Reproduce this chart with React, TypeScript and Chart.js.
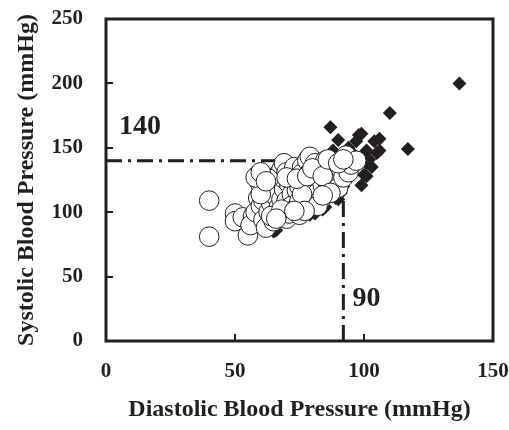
import React, { useEffect, useRef } from "react";
import { Chart, registerables } from "chart.js";

Chart.register(...registerables);

// Hypertensive subjects (filled diamonds): [diastolic, systolic]
const diamondPoints: number[][] = [
  [137, 200], [110, 177], [117, 149], [87, 166], [90, 156], [98, 160], [99, 161],
  [97, 155], [106, 157], [104, 155], [105, 146], [101, 148], [88, 148], [102, 141],
  [106, 148], [103, 135], [101, 128], [99, 121], [100, 129], [101, 138], [90, 110],
  [91, 115], [84, 102], [83, 103], [79, 98], [81, 99], [85, 104], [66, 86], [65, 85],
  [89, 111], [95, 130], [93, 125], [97, 138], [92, 120], [96, 145], [94, 150],
];

// Normotensive subjects (open circles): [diastolic, systolic]
const circlePoints: number[][] = [
  [40, 109], [40, 81], [50, 99], [50, 93], [53, 96], [55, 82], [57, 97], [56, 90],
  [58, 100], [59, 125], [59, 129], [60, 121], [59, 111], [60, 105], [61, 109], [61, 94],
  [62, 88], [62, 117], [63, 100], [64, 107], [64, 115], [65, 93], [65, 122], [66, 128],
  [66, 120], [66, 112], [67, 99], [67, 104], [68, 110], [68, 133], [69, 118], [69, 126],
  [69, 138], [70, 109], [70, 95], [70, 131], [71, 99], [71, 122], [72, 124], [72, 114],
  [72, 105], [73, 128], [73, 135], [74, 104], [74, 117], [75, 109], [75, 120], [75, 98],
  [76, 135], [76, 130], [77, 112], [77, 125], [78, 140], [78, 106], [79, 117], [79, 143],
  [79, 131], [80, 122], [80, 110], [81, 138], [81, 127], [82, 115], [83, 109], [83, 133],
  [84, 121], [85, 140], [85, 131], [86, 118], [86, 126], [87, 136], [88, 124], [88, 138],
  [89, 130], [90, 119], [91, 134], [92, 127], [93, 144], [94, 131], [95, 137], [97, 140],
  [64, 97], [63, 126], [60, 114], [68, 102], [76, 114], [82, 105],
  [58, 127], [60, 131], [62, 124], [70, 127], [74, 126], [78, 128], [80, 134], [84, 128],
  [86, 141], [90, 138], [92, 141], [87, 115], [84, 113], [77, 101], [73, 101], [66, 95],
];

// Threshold reference lines
const systolicLimit = 140;
const diastolicLimit = 92;
const systolicLineEnd = 92;
const diastolicLineEnd = 140;
const thresholdLabels = ["140", "90"];
const labelAnchors: number[][] = [[5, 166], [95.5, 33]]; // [x, y] data values

const xTicks = [0, 50, 100, 150];
const yTicks = [0, 50, 100, 150, 200, 250];
const xTitle = "Diastolic Blood Pressure (mmHg)";
const yTitle = "Systolic Blood Pressure (mmHg)";

const INK = "#231f20";
const SERIF = "'Liberation Serif', 'Times New Roman', serif";

const framePlugin = {
  id: "frameAndTicks",
  afterDatasetsDraw(chart: any) {
    const { ctx, chartArea, scales } = chart;
    const xs = scales.x;
    const ys = scales.y;
    ctx.save();
    ctx.strokeStyle = INK;
    ctx.lineWidth = 3;
    ctx.strokeRect(chartArea.left, chartArea.top, chartArea.right - chartArea.left, chartArea.bottom - chartArea.top);
    ctx.lineWidth = 2;
    ctx.beginPath();
    xTicks.slice(1, -1).forEach((v) => {
      const px = Math.round(xs.getPixelForValue(v));
      ctx.moveTo(px, chartArea.bottom);
      ctx.lineTo(px, chartArea.bottom - 7);
    });
    yTicks.slice(1, -1).forEach((v) => {
      const py = Math.round(ys.getPixelForValue(v));
      ctx.moveTo(chartArea.left, py);
      ctx.lineTo(chartArea.left + 7, py);
    });
    ctx.stroke();
    ctx.fillStyle = INK;
    ctx.font = `bold 28px ${SERIF}`;
    ctx.textAlign = "left";
    ctx.textBaseline = "middle";
    thresholdLabels.forEach((t, i) => {
      const [vx, vy] = labelAnchors[i];
      ctx.fillText(t, xs.getPixelForValue(vx), ys.getPixelForValue(vy));
    });
    ctx.restore();
  },
};

const zeroPad = (s: any) => {
  s.paddingTop = 0;
  s.paddingBottom = 0;
  s.paddingLeft = 0;
  s.paddingRight = 0;
};

export default function App() {
  const ref = useRef<HTMLCanvasElement>(null);
  useEffect(() => {
    if (!ref.current) return;
    const dash = [16, 6, 3, 6];
    const chart = new Chart(ref.current, {
      type: "scatter",
      data: {
        datasets: [
          {
            label: "normotensive",
            data: circlePoints.map(([x, y]) => ({ x, y })),
            pointStyle: "circle",
            pointRadius: 9.8,
            pointBackgroundColor: "#ffffff",
            pointBorderColor: INK,
            pointBorderWidth: 1,
            order: 1,
          },
          {
            label: "hypertensive",
            data: diamondPoints.map(([x, y]) => ({ x, y })),
            pointStyle: "rectRot",
            pointRadius: 7,
            pointBackgroundColor: INK,
            pointBorderColor: INK,
            pointBorderWidth: 0,
            order: 2,
          },
          {
            type: "line",
            label: "sbp140",
            data: [{ x: 0, y: systolicLimit }, { x: systolicLineEnd, y: systolicLimit }],
            borderColor: INK,
            borderWidth: 3,
            borderDash: dash,
            pointRadius: 0,
            showLine: true,
            fill: false,
            order: 3,
          } as any,
          {
            type: "line",
            label: "dbp90",
            data: [{ x: diastolicLimit, y: 0 }, { x: diastolicLimit, y: diastolicLineEnd }],
            borderColor: INK,
            borderWidth: 3,
            borderDash: dash,
            pointRadius: 0,
            showLine: true,
            fill: false,
            order: 3,
          } as any,
        ],
      },
      options: {
        animation: false,
        responsive: false,
        layout: { padding: { top: 19, right: 16, left: 0, bottom: 0 } },
        plugins: { legend: { display: false }, tooltip: { enabled: false } },
        scales: {
          x: {
            type: "linear",
            min: 0,
            max: 150,
            afterBuildTicks: (s: any) => { s.ticks = xTicks.map((v) => ({ value: v })); },
            afterFit: (s: any) => { s.height = 89; zeroPad(s); },
            grid: { display: false, drawTicks: false },
            border: { display: false },
            ticks: { padding: 18, color: INK, font: { family: SERIF, size: 21, weight: "bold" } },
            title: { display: true, text: xTitle, color: INK, padding: { top: 0, bottom: 6 }, font: { family: SERIF, size: 24, weight: "bold" } },
          },
          y: {
            type: "linear",
            min: 0,
            max: 250,
            afterBuildTicks: (s: any) => { s.ticks = yTicks.map((v) => ({ value: v })); },
            afterFit: (s: any) => { s.width = 106; zeroPad(s); },
            grid: { display: false, drawTicks: false },
            border: { display: false },
            ticks: { padding: 23, color: INK, font: { family: SERIF, size: 21, weight: "bold" } },
            title: { display: true, text: yTitle, color: INK, padding: { top: 12, bottom: 0 }, font: { family: SERIF, size: 24, weight: "bold" } },
          },
        },
      },
      plugins: [framePlugin],
    });
    return () => chart.destroy();
  }, []);
  return (
    <div style={{ position: "absolute", left: 0, top: 0, width: 509, height: 430 }}>
      <canvas ref={ref} width={509} height={430} style={{ display: "block" }} />
    </div>
  );
}
